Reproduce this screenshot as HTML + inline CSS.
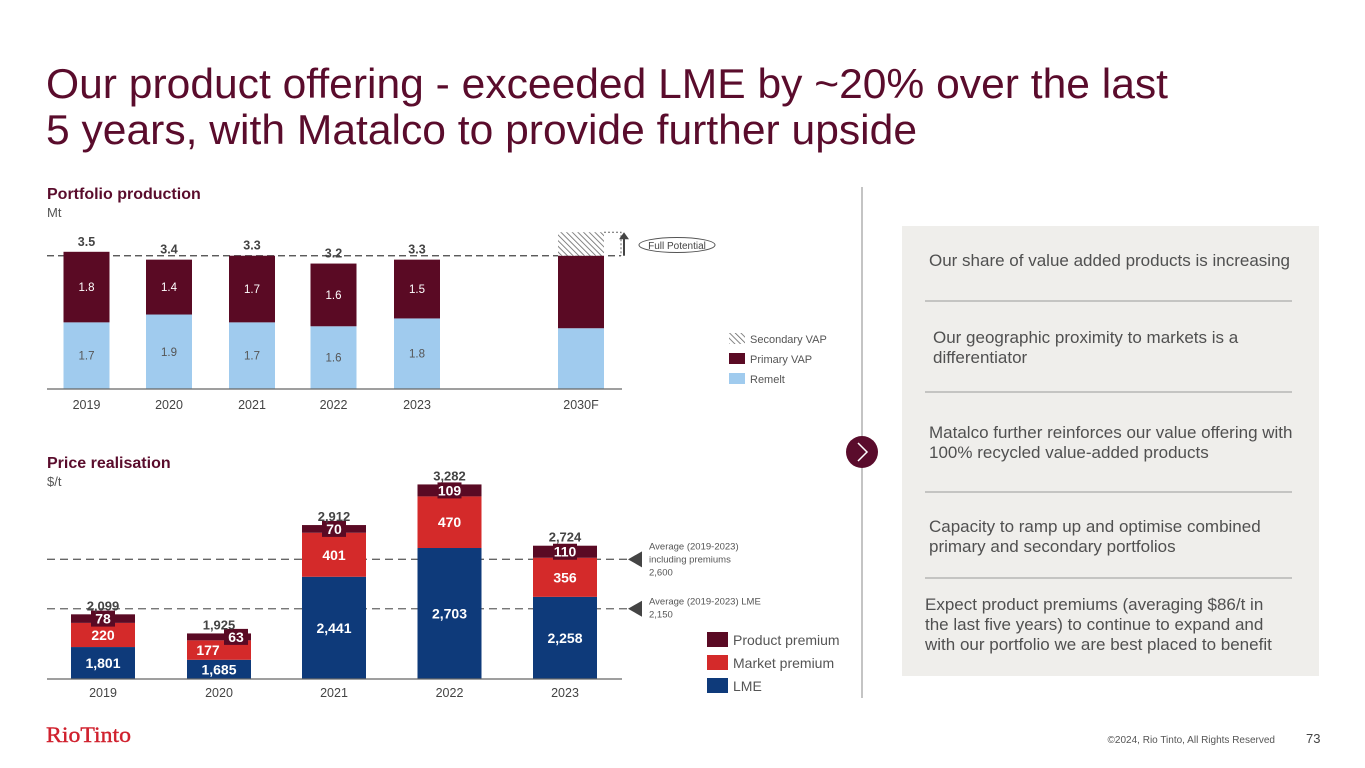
<!DOCTYPE html>
<html><head><meta charset="utf-8"><style>
html,body{margin:0;padding:0;background:#fff;}
svg{display:block;font-family:"Liberation Sans",Arial,sans-serif;}
</style></head><body>
<svg id="s" width="1365" height="768" viewBox="0 0 1365 768" xmlns="http://www.w3.org/2000/svg">
<defs>
<pattern id="hatch" width="4" height="4" patternUnits="userSpaceOnUse" patternTransform="rotate(-45)">
<rect width="4" height="4" fill="#fff"/><line x1="0" y1="0" x2="0" y2="4" stroke="#666" stroke-width="1.6"/>
</pattern>
</defs>
<text fill="#5a0c2c" font-size="42" x="46" y="98" textLength="1122" lengthAdjust="spacingAndGlyphs">Our product offering - exceeded LME by ~20% over the last</text>
<text fill="#5a0c2c" font-size="42" x="46" y="144" textLength="871" lengthAdjust="spacingAndGlyphs">5 years, with Matalco to provide further upside</text>

<text x="47" y="199" font-size="16" font-weight="bold" fill="#5a0c2c">Portfolio production</text>
<text x="47" y="217" font-size="13" fill="#555">Mt</text>
<g id="prod"></g>

<text x="47" y="468" font-size="16" font-weight="bold" fill="#5a0c2c">Price realisation</text>
<text x="47" y="486" font-size="13" fill="#555">$/t</text>
<g id="price"></g>

<line x1="862" y1="187" x2="862" y2="698" stroke="#888" stroke-width="1"/>
<rect x="902" y="226" width="417" height="450" fill="#efeeeb"/>
<g>
<circle cx="862" cy="452" r="16" fill="#5a0c2c"/>
<path d="M858 443 L867 452 L858 461" fill="none" stroke="#fff" stroke-width="1.5"/>
</g>
<g font-size="17" fill="#505050">
<text x="929" y="266">Our share of value added products is increasing</text>
<line x1="925" y1="301" x2="1292" y2="301" stroke="#999"/>
<text x="933" y="343">Our geographic proximity to markets is a<tspan x="933" y="363">differentiator</tspan></text>
<line x1="925" y1="392" x2="1292" y2="392" stroke="#999"/>
<text x="929" y="438">Matalco further reinforces our value offering with<tspan x="929" y="458">100% recycled value-added products</tspan></text>
<line x1="925" y1="492" x2="1292" y2="492" stroke="#999"/>
<text x="929" y="532">Capacity to ramp up and optimise combined<tspan x="929" y="552">primary and secondary portfolios</tspan></text>
<line x1="925" y1="578" x2="1292" y2="578" stroke="#999"/>
<text x="925" y="610">Expect product premiums (averaging $86/t in<tspan x="925" y="630">the last five years) to continue to expand and</tspan><tspan x="925" y="650">with our portfolio we are best placed to benefit</tspan></text>
</g>
<text x="46" y="742" font-family="Liberation Serif,serif" font-size="22" fill="#d0212e" textLength="85" lengthAdjust="spacingAndGlyphs" stroke="#d0212e" stroke-width="0.4">RioTinto</text>
<text x="1275" y="743" font-size="10" fill="#555" text-anchor="end">©2024, Rio Tinto, All Rights Reserved</text>
<text x="1306" y="743" font-size="13" fill="#444">73</text>
</svg>
<script>
const NS="http://www.w3.org/2000/svg";
// Production data
const prodYears=["2019","2020","2021","2022","2023","2030F"];
const remelt=[1.7,1.9,1.7,1.6,1.8,1.55];
const primaryVap=[1.8,1.4,1.7,1.6,1.5,1.85];
const secondaryVap=[0,0,0,0,0,0.6];
const prodTotals=["3.5","3.4","3.3","3.2","3.3",""];
const remeltLabels=["1.7","1.9","1.7","1.6","1.8",""];
const primaryLabels=["1.8","1.4","1.7","1.6","1.5",""];
// Price data
const priceYears=["2019","2020","2021","2022","2023"];
const lme=[1801,1685,2441,2703,2258];
const marketPrem=[220,177,401,470,356];
const productPrem=[78,63,70,109,110];
const avgIncl=2600, avgLme=2150;

function el(tag,attrs,parent,text){const e=document.createElementNS(NS,tag);for(const k in attrs)e.setAttribute(k,attrs[k]);if(text!==undefined)e.textContent=text;parent.appendChild(e);return e;}

// production axes
const pBase=389, pK=39.2;
const py=v=>pBase-v*pK;
const pCenters=[86.5,169,252,333.5,417,581];
const px=i=>pCenters[i];
const pW=46;
const prod=document.getElementById('prod');
const pTop=py(remelt[5]+primaryVap[5]), pFull=py(remelt[5]+primaryVap[5]+secondaryVap[5]);
el('line',{x1:47,y1:pTop,x2:621,y2:pTop,stroke:'#444','stroke-dasharray':'7,4','stroke-width':1.2},prod);
for(let i=0;i<prodYears.length;i++){
  const x=px(i)-pW/2;
  const r=el('rect',{x:x,y:py(remelt[i]),width:pW,height:remelt[i]*pK,fill:'#a0cbee'},prod);
  
  
  const p=el('rect',{x:x,y:py(remelt[i]+primaryVap[i]),width:pW,height:primaryVap[i]*pK,fill:'#5a0a24'},prod);
  
  
  if(secondaryVap[i]>0){
    const s=el('rect',{x:x,y:py(remelt[i]+primaryVap[i]+secondaryVap[i]),width:pW,height:secondaryVap[i]*pK,fill:'url(#hatch)'},prod);
    
    
  }
  if(remeltLabels[i]){el('text',{x:px(i),y:py(remelt[i]/2)+4,'font-size':11.5,fill:'#555','text-anchor':'middle'},prod,remeltLabels[i]);
   el('text',{x:px(i),y:py(remelt[i]+primaryVap[i]/2)+4,'font-size':11.5,fill:'#fff','text-anchor':'middle'},prod,primaryLabels[i]);}
  if(prodTotals[i]){const t=el('text',{x:px(i),y:py(remelt[i]+primaryVap[i])-6,'font-size':12.5,'font-weight':'bold',fill:'#444','text-anchor':'middle'},prod,prodTotals[i]);
   
   }
  const yl=el('text',{x:px(i),y:pBase+20,'font-size':12.5,fill:'#444','text-anchor':'middle'},prod,prodYears[i]);
  
  
}
el('line',{x1:47,y1:pBase,x2:622,y2:pBase,stroke:'#666','stroke-width':1.2},prod);
el('path',{d:`M${px(5)+pW/2} ${pFull} H621 V${pTop}`,fill:'none',stroke:'#666','stroke-dasharray':'2,2'},prod);
el('line',{x1:624,y1:pTop,x2:624,y2:pFull+6,stroke:'#444','stroke-width':2},prod);
el('path',{d:`M619 ${pFull+7} L624 ${pFull} L629 ${pFull+7} Z`,fill:'#444'},prod);
const fp=el('ellipse',{cx:677,cy:245,rx:38,ry:7.5,fill:'#fff',stroke:'#555'},prod);


el('text',{x:677,y:249,'font-size':10,fill:'#444','text-anchor':'middle'},prod,'Full Potential');
const pl=[['url(#hatch)','Secondary VAP'],['#5a0a24','Primary VAP'],['#a0cbee','Remelt']];
pl.forEach((d,j)=>{const g=el('g',{},prod);
 
 
 el('rect',{x:729,y:333+j*20,width:16,height:11,fill:d[0]},g);
 el('text',{x:750,y:343+j*20,'font-size':11,fill:'#555'},g,d[1]);});

// price axes
const qBase=679, qK=0.1098, qMin=1510;
const qy=v=>qBase-(v-qMin)*qK;
const qCenters=[103,219,334,449.5,565];
const qx=i=>qCenters[i];
const qW=64;
const pr=document.getElementById('price');
[[avgIncl,['Average (2019-2023)','including premiums','2,600'],'avg-including-premiums-line'],[avgLme,['Average (2019-2023) LME','2,150'],'avg-lme-line']].forEach(d=>{
  const y=qy(d[0]);
  const l=el('line',{x1:47,y1:y,x2:628,y2:y,stroke:'#666','stroke-dasharray':'8,5','stroke-width':1.3},pr);
  
  
  el('path',{d:`M628 ${y} L642 ${y-8} L642 ${y+8} Z`,fill:'#444'},pr);
  const n=d[1].length;
  d[1].forEach((s,k)=>el('text',{x:649,y:y-(n===3?10:4)+k*13,'font-size':9.5,fill:'#555'},pr,s));
});
for(let i=0;i<priceYears.length;i++){
  const x=qx(i)-qW/2;
  const t1=lme[i],t2=t1+marketPrem[i],t3=t2+productPrem[i];
  const a=el('rect',{x:x,y:qy(t1),width:qW,height:qBase-qy(t1),fill:'#0e3a7a'},pr);
  
  
  const b=el('rect',{x:x,y:qy(t2),width:qW,height:qy(t1)-qy(t2),fill:'#d42a2a'},pr);
  
  
  const c=el('rect',{x:x,y:qy(t3),width:qW,height:qy(t2)-qy(t3),fill:'#5a0a24'},pr);
  
  
  el('text',{x:qx(i),y:(qy(t1)+qBase)/2+5,'font-size':14,'font-weight':'bold',fill:'#fff','text-anchor':'middle'},pr,lme[i].toLocaleString('en-US'));
  const mx=i===1?qx(i)-11:qx(i);
  el('text',{x:mx,y:(qy(t1)+qy(t2))/2+5,'font-size':14,'font-weight':'bold',fill:'#fff','text-anchor':'middle'},pr,marketPrem[i]);
  const cx=i===1?qx(i)+17:qx(i), cy=(qy(t2)+qy(t3))/2;
  el('rect',{x:cx-12,y:cy-8,width:24,height:16,fill:'#5a0a24'},pr);
  el('text',{x:cx,y:cy+5,'font-size':14,'font-weight':'bold',fill:'#fff','text-anchor':'middle'},pr,productPrem[i]);
  const tl=el('text',{x:qx(i),y:qy(t3)-4,'font-size':13,'font-weight':'bold',fill:'#444','text-anchor':'middle'},pr,t3.toLocaleString('en-US'));
  
  
  const yl=el('text',{x:qx(i),y:qBase+18,'font-size':12.5,fill:'#444','text-anchor':'middle'},pr,priceYears[i]);
  
  
}
el('line',{x1:47,y1:qBase,x2:622,y2:qBase,stroke:'#666','stroke-width':1.2},pr);
const ql=[['#5a0a24','Product premium'],['#d42a2a','Market premium'],['#0e3a7a','LME']];
ql.forEach((d,j)=>{const g=el('g',{},pr);
 
 
 el('rect',{x:707,y:632+j*23,width:21,height:15,fill:d[0]},g);
 el('text',{x:733,y:645+j*23,'font-size':14,fill:'#555'},g,d[1]);});
</script>
</body></html>
